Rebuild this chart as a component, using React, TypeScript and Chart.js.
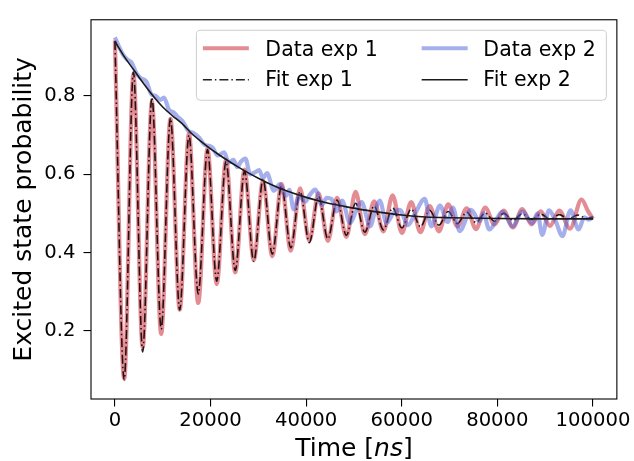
import React, { useEffect, useRef } from "react";
import { Chart, registerables } from "chart.js";

Chart.register(...registerables);

const FONT = "'DejaVu Sans', 'Liberation Sans', sans-serif";

// axis settings
const xTickValues = [0, 20000, 40000, 60000, 80000, 100000];
const yTickValues = [0.2, 0.4, 0.6, 0.8];
const xLimits = [-5000, 105000];
const yLimits = [0.0256, 0.995];

const legendLabels = ["Data exp 1", "Fit exp 1", "Data exp 2", "Fit exp 2"];
const yTitle = "Excited state probability";
const xTitleParts = ["Time [", "ns", "]"];

// Fit exp 1 (extrema of damped oscillation)
const fit1Times = [0, 1937, 3873, 5810, 7746, 9683, 11619, 13556, 15492, 17429, 19365, 21302, 23238, 25175, 27111, 29048, 30984, 32921, 34857, 36794, 38730, 40667, 42603, 44540, 46476, 48413, 50349, 52286, 54222, 56159, 58095, 60032, 61968, 63905, 65841, 67778, 69714, 71651, 73587, 75524, 77460, 79397, 81333, 83270, 85206, 87143, 89079, 91016, 92952, 94889, 96825, 98762, 100000];
const fit1Values = [0.940, 0.075, 0.862, 0.146, 0.797, 0.204, 0.744, 0.253, 0.700, 0.294, 0.663, 0.327, 0.633, 0.354, 0.608, 0.377, 0.587, 0.396, 0.570, 0.412, 0.556, 0.425, 0.544, 0.435, 0.534, 0.444, 0.526, 0.452, 0.519, 0.458, 0.514, 0.463, 0.511, 0.466, 0.508, 0.470, 0.505, 0.474, 0.503, 0.477, 0.501, 0.480, 0.500, 0.482, 0.499, 0.484, 0.498, 0.485, 0.497, 0.486, 0.496, 0.487, 0.491];

// Data exp 1
const data1Times = [0, 1937, 3873, 5810, 7746, 9683, 11619, 13556, 15492, 17429, 19365, 21302, 23238, 25175, 27111, 29048, 30984, 32921, 34857, 36794, 38730, 40667, 42603, 44540, 46476, 48413, 50349, 52286, 54222, 56159, 58095, 60032, 61968, 63905, 65841, 67778, 69714, 71651, 73587, 75524, 77460, 79397, 81333, 83270, 85206, 87143, 89079, 91016, 92952, 95200, 97600, 99000, 100000];
const data1Values = [0.942, 0.077, 0.856, 0.158, 0.786, 0.192, 0.742, 0.254, 0.704, 0.271, 0.665, 0.319, 0.637, 0.349, 0.612, 0.381, 0.583, 0.391, 0.575, 0.405, 0.564, 0.430, 0.551, 0.430, 0.540, 0.440, 0.555, 0.447, 0.531, 0.454, 0.546, 0.450, 0.529, 0.452, 0.519, 0.454, 0.523, 0.467, 0.513, 0.460, 0.515, 0.472, 0.507, 0.464, 0.511, 0.472, 0.505, 0.468, 0.507, 0.461, 0.535, 0.505, 0.486];

// Data exp 2
const data2Times = [0, 900, 1730, 2600, 3470, 4500, 5500, 6590, 7600, 8600, 9500, 10250, 11300, 12400, 13300, 14200, 15300, 16500, 17670, 18800, 19600, 20440, 21500, 22870, 23800, 24800, 25600, 26340, 27300, 28300, 29300, 30150, 31000, 31800, 33260, 34500, 35800, 36500, 37400, 38600, 39800, 40800, 41900, 43300, 44300, 45300, 46400, 47500, 49200, 50400, 51600, 53400, 54500, 55400, 56800, 58200, 59600, 61300, 62800, 64800, 66200, 68000, 69600, 70700, 72100, 74500, 76300, 77100, 78300, 81100, 83200, 85200, 87300, 88400, 89400, 90800, 92200, 93600, 95300, 97000, 98200, 99100, 100000];
const data2Values = [0.950, 0.925, 0.905, 0.893, 0.886, 0.858, 0.845, 0.837, 0.805, 0.800, 0.790, 0.796, 0.765, 0.757, 0.745, 0.735, 0.712, 0.705, 0.693, 0.675, 0.673, 0.668, 0.648, 0.656, 0.630, 0.637, 0.618, 0.632, 0.640, 0.600, 0.605, 0.611, 0.590, 0.603, 0.558, 0.575, 0.545, 0.560, 0.510, 0.545, 0.530, 0.548, 0.561, 0.521, 0.540, 0.537, 0.505, 0.533, 0.475, 0.505, 0.529, 0.467, 0.510, 0.533, 0.475, 0.500, 0.509, 0.470, 0.500, 0.537, 0.467, 0.520, 0.478, 0.515, 0.455, 0.509, 0.480, 0.500, 0.459, 0.504, 0.467, 0.505, 0.475, 0.500, 0.445, 0.508, 0.480, 0.442, 0.508, 0.459, 0.490, 0.484, 0.490];

// Fit exp 2
const fit2Times = [0, 2000, 4000, 6000, 8000, 10000, 12000, 14000, 16000, 18000, 20000, 22000, 24000, 26000, 28000, 30000, 33000, 36000, 40000, 44000, 48000, 52000, 56000, 60000, 65000, 70000, 80000, 90000, 100000];
const fit2Values = [0.940, 0.900, 0.866, 0.832, 0.800, 0.772, 0.750, 0.730, 0.705, 0.684, 0.665, 0.648, 0.632, 0.617, 0.603, 0.590, 0.572, 0.557, 0.541, 0.528, 0.518, 0.509, 0.502, 0.496, 0.491, 0.489, 0.487, 0.486, 0.486];

const RED = "rgba(201, 25, 41, 0.5)";
const BLUE = "rgba(75, 95, 215, 0.5)";

const toPoints = (xs: number[], ys: number[]) => xs.map((x, i) => ({ x, y: ys[i] }));

const overlayPlugin = {
  id: "overlay",
  afterDatasetsDraw(chart: any) {
    const { ctx, chartArea: a } = chart;
    ctx.save();
    ctx.strokeStyle = "#000";
    ctx.lineWidth = 1.1;
    ctx.strokeRect(a.left, a.top, a.right - a.left, a.bottom - a.top);
    ctx.restore();
  },
  afterDraw(chart: any) {
    const { ctx, chartArea: a } = chart;
    ctx.save();
    // legend frame
    const bx = a.right - 420.5;
    const by = a.top + 10.5;
    const bw = 410;
    const bh = 70;
    const r = 4;
    ctx.beginPath();
    ctx.moveTo(bx + r, by);
    ctx.lineTo(bx + bw - r, by);
    ctx.arcTo(bx + bw, by, bx + bw, by + r, r);
    ctx.lineTo(bx + bw, by + bh - r);
    ctx.arcTo(bx + bw, by + bh, bx + bw - r, by + bh, r);
    ctx.lineTo(bx + r, by + bh);
    ctx.arcTo(bx, by + bh, bx, by + bh - r, r);
    ctx.lineTo(bx, by + r);
    ctx.arcTo(bx, by, bx + r, by, r);
    ctx.closePath();
    ctx.fillStyle = "rgba(255,255,255,0.8)";
    ctx.fill();
    ctx.strokeStyle = "#cccccc";
    ctx.lineWidth = 1;
    ctx.stroke();

    const handleX = [bx + 6.5, bx + 225.3];
    const textX = [bx + 69, bx + 287];
    const handleY = [by + 18, by + 49.5];
    const baseY = [by + 25.5, by + 55.5];
    const handleLen = 46;
    chart.data.datasets.forEach((ds: any, i: number) => {
      const col = Math.floor(i / 2);
      const row = i % 2;
      ctx.save();
      ctx.beginPath();
      ctx.strokeStyle = ds.borderColor;
      ctx.lineWidth = ds.borderWidth;
      ctx.setLineDash(ds.borderDash || []);
      ctx.moveTo(handleX[col], handleY[row]);
      ctx.lineTo(handleX[col] + handleLen, handleY[row]);
      ctx.stroke();
      ctx.restore();
      ctx.fillStyle = "#000";
      ctx.font = `20.5px ${FONT}`;
      ctx.textAlign = "left";
      ctx.textBaseline = "alphabetic";
      ctx.fillText(ds.label, textX[col], baseY[row]);
    });

    // x axis title with italic unit
    const normal = `25px ${FONT}`;
    const italic = `italic 25px ${FONT}`;
    ctx.font = normal;
    const w1 = ctx.measureText(xTitleParts[0]).width;
    const w3 = ctx.measureText(xTitleParts[2]).width;
    ctx.font = italic;
    const w2 = ctx.measureText(xTitleParts[1]).width;
    const total = w1 + w2 + w3;
    let x = (a.left + a.right) / 2 - total / 2;
    const y = 456;
    ctx.fillStyle = "#000";
    ctx.textAlign = "left";
    ctx.textBaseline = "alphabetic";
    ctx.font = normal;
    ctx.fillText(xTitleParts[0], x, y);
    x += w1;
    ctx.font = italic;
    ctx.fillText(xTitleParts[1], x, y);
    x += w2;
    ctx.font = normal;
    ctx.fillText(xTitleParts[2], x, y);
    ctx.restore();
  },
};

export default function App() {
  const ref = useRef<HTMLCanvasElement>(null);
  useEffect(() => {
    const canvas = ref.current;
    if (!canvas) return;
    const common = { pointRadius: 0, pointHoverRadius: 0, fill: false, cubicInterpolationMode: "monotone" as const, tension: 0.4, borderJoinStyle: "round" as const };
    const chart = new Chart(canvas, {
      type: "line",
      data: {
        datasets: [
          { ...common, label: legendLabels[0], data: toPoints(data1Times, data1Values), borderColor: RED, borderWidth: 4.2, order: 4 },
          { ...common, label: legendLabels[1], data: toPoints(fit1Times, fit1Values), borderColor: "rgba(15,5,5,0.9)", borderWidth: 1.6, borderDash: [9, 3, 1.5, 3], order: 3 },
          { ...common, label: legendLabels[2], data: toPoints(data2Times, data2Values), borderColor: BLUE, borderWidth: 4.2, order: 2 },
          { ...common, label: legendLabels[3], data: toPoints(fit2Times, fit2Values), borderColor: "#1a1a1a", borderWidth: 1.6, order: 1 },
        ] as any,
      },
      options: {
        responsive: false,
        animation: false,
        devicePixelRatio: 1,
        events: [],
        layout: { padding: { top: 6, right: 14, left: 0, bottom: 0 } },
        plugins: { legend: { display: false }, tooltip: { enabled: false } },
        scales: {
          x: {
            type: "linear",
            min: xLimits[0],
            max: xLimits[1],
            afterBuildTicks: (s: any) => {
              s.ticks = xTickValues.map((v) => ({ value: v }));
            },
            afterFit: (s: any) => {
              s.height = 62;
            },
            grid: { drawOnChartArea: false, drawTicks: true, tickLength: 7.5, color: "#000", lineWidth: 1.1 },
            border: { display: false },
            ticks: {
              font: { family: FONT, size: 19.6 },
              color: "#000",
              padding: 3,
              maxRotation: 0,
              autoSkip: false,
              callback: (v: any) => String(v),
            },
          },
          y: {
            type: "linear",
            min: yLimits[0],
            max: yLimits[1],
            afterBuildTicks: (s: any) => {
              s.ticks = yTickValues.map((v) => ({ value: v }));
            },
            afterFit: (s: any) => {
              s.width = 91;
            },
            grid: { drawOnChartArea: false, drawTicks: true, tickLength: 7.5, color: "#000", lineWidth: 1.1 },
            border: { display: false },
            ticks: {
              font: { family: FONT, size: 19.6 },
              color: "#000",
              padding: 8,
              autoSkip: false,
              callback: (v: any) => Number(v).toFixed(1),
            },
            title: {
              display: true,
              text: yTitle,
              color: "#000",
              font: { family: FONT, size: 25 },
              padding: { top: 9, bottom: 0 },
            },
          },
        },
      } as any,
      plugins: [overlayPlugin],
    });
    return () => chart.destroy();
  }, []);
  return (
    <div style={{ position: "fixed", left: 0, top: 0, width: 634, height: 461, background: "#fff" }}>
      <canvas ref={ref} width={634} height={461} style={{ display: "block", width: 634, height: 461 }} />
    </div>
  );
}
